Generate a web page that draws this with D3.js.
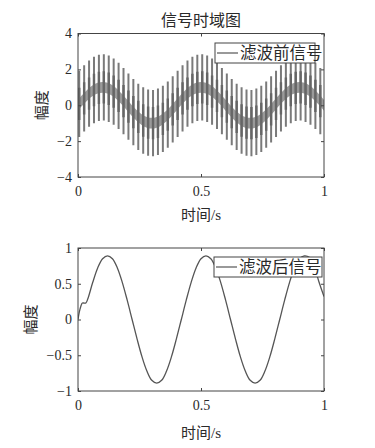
<!DOCTYPE html>
<html><head><meta charset="utf-8">
<script src="https://cdn.jsdelivr.net/npm/d3@7/dist/d3.min.js"></script>
<style>body{margin:0;background:#fff}</style>
</head><body>
<svg id="c" width="375" height="448"></svg>
<script>
// ---- data ----
const title = "信号时域图";
const xLabel = "时间/s";
const yLabel = "幅度";
const legendTop = "滤波前信号";
const legendBottom = "滤波后信号";
const xTicks = [0, 0.5, 1];
const yTicksTop = [-4, -2, 0, 2, 4];
const yTicksBottom = [-1, -0.5, 0, 0.5, 1];

// 50 Hz spikes of the raw signal: time, top and bottom of each stroke
const spikeT = [0.005,0.025,0.045,0.065,0.085,0.105,0.125,0.145,0.165,0.185,
                0.205,0.225,0.245,0.265,0.285,0.305,0.325,0.345,0.365,0.385,
                0.405,0.425,0.445,0.465,0.485,0.505,0.525,0.545,0.565,0.585,
                0.605,0.625,0.645,0.665,0.685,0.705,0.725,0.745,0.765,0.785,
                0.805,0.825,0.845,0.865,0.885,0.905,0.925,0.945,0.965,0.985];
const spikeHi = [1.93,2.23,2.50,2.70,2.82,2.85,2.77,2.61,2.37,2.08,
                 1.77,1.47,1.20,1.00,0.88,0.85,0.93,1.09,1.33,1.62,
                 1.93,2.23,2.50,2.70,2.82,2.85,2.77,2.61,2.37,2.08,
                 1.77,1.47,1.20,1.00,0.88,0.85,0.93,1.09,1.33,1.62,
                 1.93,2.23,2.50,2.70,2.82,2.85,2.77,2.61,2.37,2.08];
const spikeLo = [-1.77,-1.47,-1.20,-1.00,-0.88,-0.85,-0.93,-1.09,-1.33,-1.62,
                 -1.93,-2.23,-2.50,-2.70,-2.82,-2.85,-2.77,-2.61,-2.37,-2.08,
                 -1.77,-1.47,-1.20,-1.00,-0.88,-0.85,-0.93,-1.09,-1.33,-1.62,
                 -1.93,-2.23,-2.50,-2.70,-2.82,-2.85,-2.77,-2.61,-2.37,-2.08,
                 -1.77,-1.47,-1.20,-1.00,-0.88,-0.85,-0.93,-1.09,-1.33,-1.62];
// slow (2.5 Hz) centre of the raw signal
const trendT = [0,0.02,0.04,0.06,0.08,0.10,0.12,0.14,0.16,0.18,0.20,0.22,0.24,0.26,0.28,0.30,0.32,0.34,0.36,0.38,
                0.40,0.42,0.44,0.46,0.48,0.50,0.52,0.54,0.56,0.58,0.60,0.62,0.64,0.66,0.68,0.70,0.72,0.74,0.76,0.78,
                0.80,0.82,0.84,0.86,0.88,0.90,0.92,0.94,0.96,0.98,1.00];
const trendV = [0,0.31,0.59,0.81,0.95,1.00,0.95,0.81,0.59,0.31,0,-0.31,-0.59,-0.81,-0.95,-1.00,-0.95,-0.81,-0.59,-0.31,
                0,0.31,0.59,0.81,0.95,1.00,0.95,0.81,0.59,0.31,0,-0.31,-0.59,-0.81,-0.95,-1.00,-0.95,-0.81,-0.59,-0.31,
                0,0.31,0.59,0.81,0.95,1.00,0.95,0.81,0.59,0.31,0];

// filtered signal
const filtT = [0,0.005,0.012,0.018,0.025,0.032,0.04,0.06,0.08,0.10,0.12,0.14,0.16,0.18,0.20,0.22,0.24,0.26,0.28,0.30,
               0.32,0.34,0.36,0.38,0.40,0.42,0.44,0.46,0.48,0.50,0.52,0.54,0.56,0.58,0.60,0.62,0.64,0.66,0.68,0.70,
               0.72,0.74,0.76,0.78,0.80,0.82,0.84,0.86,0.88,0.90,0.92,0.94,0.96,0.98,1.00];
const filtV = [0,0.10,0.19,0.23,0.23,0.23,0.29,0.52,0.72,0.85,0.89,0.85,0.72,0.52,0.27,0,-0.27,-0.52,-0.72,-0.85,
               -0.89,-0.85,-0.72,-0.52,-0.27,0,0.27,0.52,0.72,0.85,0.89,0.85,0.72,0.52,0.27,0,-0.27,-0.52,-0.72,-0.85,
               -0.89,-0.85,-0.72,-0.52,-0.27,0,0.27,0.52,0.72,0.85,0.89,0.87,0.74,0.52,0.32];

// ---- drawing ----
const svg = d3.select("#c");
const FONT = "'Liberation Serif','Noto Sans CJK SC',serif";
const TXT = "#2a2a2a";
const fmt = d => d < 0 ? "\u2212" + Math.abs(d) : String(d);

function panel(cfg) {
  const x = d3.scaleLinear().domain([0, 1]).range([78, 324]);
  const y = d3.scaleLinear().domain(cfg.yDomain).range([cfg.bottom, cfg.top]);
  const g = svg.append("g");
  const clipId = "clip" + cfg.id;
  svg.append("clipPath").attr("id", clipId).append("rect")
    .attr("x", 78).attr("y", cfg.top).attr("width", 246).attr("height", cfg.bottom - cfg.top);
  const plot = g.append("g").attr("clip-path", `url(#${clipId})`);
  cfg.draw(plot, x, y);

  // axes with inside ticks on all four sides
  const styleAxis = a => {
    a.select(".domain").remove();
    a.selectAll("line").attr("stroke", "#444");
    a.selectAll("text").attr("font-family", FONT).attr("font-size", 14).attr("fill", TXT);
  };
  g.append("g").attr("transform", "translate(78,0)")
    .call(d3.axisLeft(y).tickValues(cfg.yTicks).tickSize(-3).tickPadding(6).tickFormat(fmt)).call(styleAxis);
  g.append("g").attr("transform", "translate(324,0)")
    .call(d3.axisRight(y).tickValues(cfg.yTicks).tickSize(-3).tickFormat("")).call(styleAxis);
  g.append("g").attr("transform", `translate(0,${cfg.bottom})`)
    .call(d3.axisBottom(x).tickValues(xTicks).tickSize(-3).tickPadding(9).tickFormat(fmt)).call(styleAxis);
  g.append("g").attr("transform", `translate(0,${cfg.top})`)
    .call(d3.axisTop(x).tickValues(xTicks).tickSize(-3).tickFormat("")).call(styleAxis);
  g.append("rect").attr("x", 78).attr("y", cfg.top).attr("width", 246).attr("height", cfg.bottom - cfg.top)
    .attr("fill", "none").attr("stroke", "#444").attr("stroke-width", 1);

  // legend
  const L = cfg.legend;
  g.append("rect").attr("x", L.x).attr("y", L.y).attr("width", L.w).attr("height", 20)
    .attr("fill", "#fff").attr("stroke", "#444").attr("stroke-width", 1);
  g.append("line").attr("x1", L.x + 2).attr("x2", L.x + 23).attr("y1", L.y + 10).attr("y2", L.y + 10)
    .attr("stroke", "#555").attr("stroke-width", 1.2);
  g.append("text").attr("x", L.x + 25).attr("y", L.y + 16).text(L.text)
    .attr("font-family", FONT).attr("font-size", 16.5).attr("fill", TXT);

  // labels
  g.append("text").attr("x", 201).attr("y", cfg.xLabelY).attr("text-anchor", "middle").text(xLabel)
    .attr("font-family", FONT).attr("font-size", 15).attr("fill", TXT);
  g.append("text").attr("transform", `translate(${cfg.yLabelX},${(cfg.top + cfg.bottom) / 2}) rotate(-90)`)
    .attr("text-anchor", "middle").attr("dy", "0.35em").text(yLabel)
    .attr("font-family", FONT).attr("font-size", 15).attr("fill", TXT);
}

// top panel
svg.append("text").attr("x", 201).attr("y", 26).attr("text-anchor", "middle").text(title)
  .attr("font-family", FONT).attr("font-size", 16).attr("fill", TXT);

panel({
  id: 1, top: 33.5, bottom: 177, yDomain: [-4, 4], yTicks: yTicksTop,
  xLabelY: 220, yLabelX: 42,
  legend: {x: 215, y: 43, w: 100, text: legendTop},
  draw: (p, x, y) => {
    const pts = trendT.map((t, i) => [t, trendV[i]]);
    p.append("path").datum(pts)
      .attr("d", d3.area().x(d => x(d[0])).y0(d => y(d[1] - 0.3)).y1(d => y(d[1] + 0.3)).curve(d3.curveCatmullRom))
      .attr("fill", "#9a9a9a");
    const sp = spikeT.map((t, i) => ({t, hi: spikeHi[i], lo: spikeLo[i], mid: (spikeHi[i] + spikeLo[i]) / 2}));
    p.selectAll("line.sp").data(sp).join("line").attr("class", "sp")
      .attr("x1", d => x(d.t)).attr("x2", d => x(d.t))
      .attr("y1", d => y(d.hi)).attr("y2", d => y(d.lo))
      .attr("stroke", "#7a7a7a").attr("stroke-width", 2);
    p.selectAll("line.sp2").data(sp).join("line").attr("class", "sp2")
      .attr("x1", d => x(d.t)).attr("x2", d => x(d.t))
      .attr("y1", d => y(d.mid + 0.9)).attr("y2", d => y(d.mid - 0.9))
      .attr("stroke", "#666").attr("stroke-width", 2.4);
  }
});

panel({
  id: 2, top: 248, bottom: 391, yDomain: [-1, 1], yTicks: yTicksBottom,
  xLabelY: 438, yLabelX: 31,
  legend: {x: 214, y: 257, w: 108, text: legendBottom},
  draw: (p, x, y) => {
    const pts = filtT.map((t, i) => [t, filtV[i]]);
    p.append("path").datum(pts)
      .attr("d", d3.line().x(d => x(d[0])).y(d => y(d[1])).curve(d3.curveCatmullRom))
      .attr("fill", "none").attr("stroke", "#555").attr("stroke-width", 1.3);
  }
});
</script>
</body></html>
